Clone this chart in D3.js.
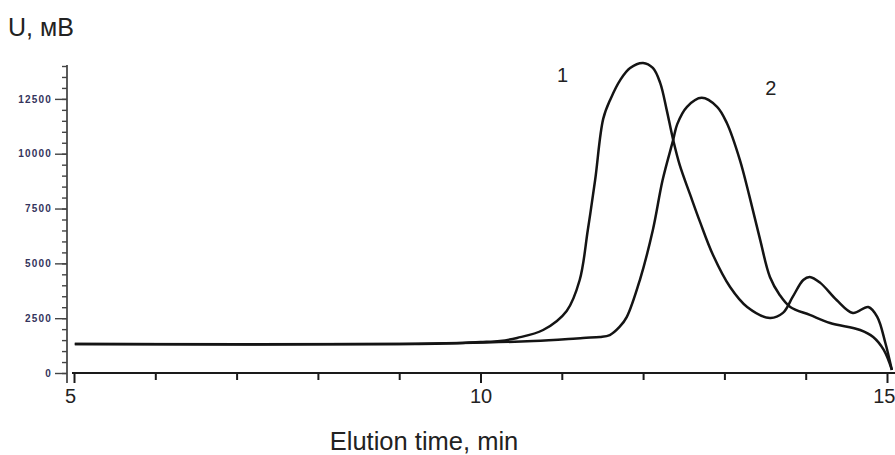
<!doctype html>
<html>
<head>
<meta charset="UTF-8">
<title>Elution chromatogram</title>
<script src="https://d3js.org/d3.v7.min.js"></script>
<style>
  body { margin: 0; background: #fff; }
  text { font-family: "Liberation Sans", Arial, sans-serif; }
</style>
</head>
<body>
<script>
// curve 1 (time, min / signal, mV)
var time1 = [5.01, 9.0, 9.78, 10.0, 10.24, 10.45, 10.77, 11.06, 11.22, 11.32, 11.41, 11.51, 11.6, 11.72, 11.84, 12.0,
             12.12, 12.21, 12.29, 12.37, 12.45, 12.58, 12.7, 12.86, 13.07, 13.28, 13.56, 13.72, 13.84, 13.97,
             14.05, 14.18, 14.38, 14.58, 14.77, 14.88, 14.98, 15.06];
var signal1 = [1320, 1320, 1370, 1410, 1460, 1600, 1960, 2830, 4240, 6520, 8800, 11600, 12500, 13370, 13910, 14140,
               13910, 13230, 12000, 10630, 9490, 8120, 6890, 5380, 3920, 3010, 2510, 2740, 3470, 4240,
               4380, 4110, 3330, 2740, 3010, 2560, 1370, 140];
// curve 2
var time2 = [5.01, 9.0, 10.65, 11.26, 11.47, 11.59, 11.71, 11.8, 11.96, 12.12, 12.24, 12.37, 12.42, 12.54, 12.72,
             12.91, 13.03, 13.19, 13.31, 13.44, 13.56, 13.68, 13.81, 14.05, 14.3, 14.67, 14.83, 14.96, 15.06];
var signal2 = [1320, 1320, 1460, 1600, 1640, 1730, 2100, 2560, 4240, 6520, 8800, 10630, 11350, 12140, 12550,
               12140, 11400, 9720, 8030, 6070, 4380, 3560, 3010, 2650, 2280, 1960, 1640, 1050, 140];

var xMajor = [5, 10, 15];
var xMinor = [6, 7, 8, 9, 11, 12, 13, 14];
var yMajor = [0, 2500, 5000, 7500, 10000, 12500];
var yMinor = d3.range(0, 14001, 500);

var curveLabels = ["1", "2"];
var labelTime = [11.01, 13.57];
var labelSignal = [13280, 12680];

var w = 895, h = 455;

var svg = d3.select("body").append("svg")
    .attr("width", w)
    .attr("height", h);

svg.append("rect").attr("width", w).attr("height", h).attr("fill", "#fff");

var x = d3.scaleLinear().domain([5, 15]).range([74, 887]);
var y = d3.scaleLinear().domain([0, 14000]).range([373, 66]);

// ---- y axis
var yAx = svg.append("g").attr("transform", "translate(67,0)");
yAx.append("line")
    .attr("x1", 0).attr("x2", 0)
    .attr("y1", y(14000) - 1).attr("y2", y(0) + 10)
    .attr("stroke", "#333").attr("stroke-width", 1.6);

yAx.append("g")
    .call(d3.axisLeft(y).tickValues(yMinor).tickSize(5).tickFormat(""))
    .call(function(g){ g.select(".domain").remove(); })
    .selectAll("line").attr("stroke", "#444").attr("stroke-width", 1.4);

var yMaj = yAx.append("g")
    .call(d3.axisLeft(y).tickValues(yMajor).tickSize(12).tickPadding(3).tickFormat(d3.format("d")));
yMaj.select(".domain").remove();
yMaj.selectAll("line").attr("stroke", "#444").attr("stroke-width", 1.4);
yMaj.selectAll("text")
    .attr("font-family", "DejaVu Sans, sans-serif")
    .attr("font-weight", "bold")
    .attr("font-size", 10)
    .attr("letter-spacing", 1.2)
    .attr("fill", "#34345c");

// ---- x axis
var xAx = svg.append("g").attr("transform", "translate(0," + y(0) + ")");
xAx.append("line")
    .attr("x1", x(5) - 2).attr("x2", w)
    .attr("y1", 0).attr("y2", 0)
    .attr("stroke", "#1a1a1a").attr("stroke-width", 2);

xAx.append("g")
    .call(d3.axisBottom(x).tickValues(xMinor).tickSize(7).tickFormat(""))
    .call(function(g){ g.select(".domain").remove(); })
    .selectAll("line").attr("stroke", "#1a1a1a").attr("stroke-width", 2);

var xMaj = xAx.append("g")
    .call(d3.axisBottom(x).tickValues(xMajor).tickSize(10).tickPadding(6));
xMaj.select(".domain").remove();
xMaj.selectAll("line").attr("stroke", "#1a1a1a").attr("stroke-width", 2);
xMaj.selectAll("text")
    .attr("font-family", "Liberation Sans, Arial, sans-serif")
    .attr("font-size", 20)
    .attr("fill", "#222")
    .attr("text-anchor", function(d){ return d === 15 ? "end" : "middle"; })
    .attr("dx", function(d){ return d === 15 ? 8 : (d === 5 ? -4 : 0); });

// ---- curves
var line = d3.line()
    .x(function(d){ return x(d[0]); })
    .y(function(d){ return y(d[1]); })
    .curve(d3.curveCatmullRom.alpha(0.5));

var series = [d3.zip(time1, signal1), d3.zip(time2, signal2)];

svg.selectAll("path.curve")
    .data(series)
    .enter().append("path")
    .attr("class", "curve")
    .attr("d", line)
    .attr("fill", "none")
    .attr("stroke", "#141414")
    .attr("stroke-width", 2.5)
    .attr("stroke-linejoin", "round");

// ---- curve numbers
svg.selectAll("text.num")
    .data(curveLabels)
    .enter().append("text")
    .attr("class", "num")
    .attr("x", function(d, i){ return x(labelTime[i]); })
    .attr("y", function(d, i){ return y(labelSignal[i]); })
    .attr("text-anchor", "middle")
    .attr("font-size", 20)
    .attr("fill", "#222")
    .text(function(d){ return d; });

// ---- titles
svg.append("text")
    .attr("x", 8).attr("y", 36)
    .attr("font-size", 25)
    .attr("fill", "#222")
    .text("U, мВ");

svg.append("text")
    .attr("x", 424).attr("y", 450)
    .attr("text-anchor", "middle")
    .attr("font-size", 25.5)
    .attr("fill", "#222")
    .text("Elution time, min");
</script>
</body>
</html>
